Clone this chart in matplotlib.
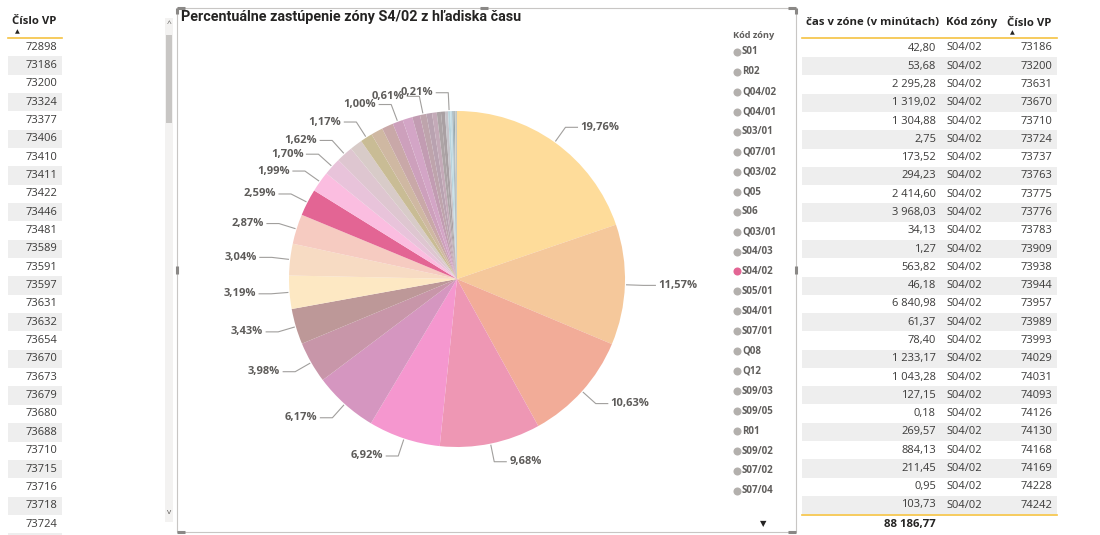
import numpy as np
import matplotlib.pyplot as plt
from matplotlib.patches import Rectangle

plt.rcParams['font.family'] = ['Open Sans', 'DejaVu Sans']

# left table: Číslo VP
left_vp = [72898, 73186, 73200, 73324, 73377, 73406, 73410, 73411, 73422,
           73446, 73481, 73589, 73591, 73597, 73631, 73632, 73654, 73670,
           73673, 73679, 73680, 73688, 73710, 73715, 73716, 73718, 73724]

# pie: share of each zone in %, clockwise from 12 o'clock
zone_share = [19.76, 11.57, 10.63, 9.68, 6.92, 6.17, 3.98, 3.43, 3.19, 3.04,
              2.87, 2.59, 1.99, 1.70, 1.62, 1.20, 1.17, 1.15, 1.10, 1.00,
              0.95, 0.75, 0.61, 0.55, 0.45, 0.40, 0.38, 0.30, 0.21,
              0.18, 0.14, 0.11, 0.08, 0.06, 0.04, 0.03]
zone_labelled = [True] * 15 + [False, True, False, False, True,
                               False, False, True, False, False, False, False, False, True,
                               False, False, False, False, False, False, False]
zone_colors = ['#FEDC9A', '#F5C89B', '#F2AC98', '#EE97B4', '#F597CF', '#D596C0',
               '#C896A9', '#BD9898', '#FDE8C3', '#F7DBC3', '#F6CBC1', '#E36594',
               '#FBBDE0', '#E8C3DA', '#DEC6D0', '#D8CBC8', '#C9BC95', '#CFB8A2',
               '#C9A8A8', '#CDA0BC', '#D3A5C6', '#C29CB2', '#BEA4AC', '#B9A2B0',
               '#C4AAB8', '#ADA4A6', '#A9A0A3', '#C7C4CA', '#B9D5DD', '#C3DCE4',
               '#A7B8BF', '#98A7A9', '#D9D2C8', '#9DAFB7', '#8C9AA2', '#C5C8B8']

legend_zones = ['S01', 'R02', 'Q04/02', 'Q04/01', 'S03/01', 'Q07/01', 'Q03/02',
                'Q05', 'S06', 'Q03/01', 'S04/03', 'S04/02', 'S05/01', 'S04/01',
                'S07/01', 'Q08', 'Q12', 'S09/03', 'S09/05', 'R01', 'S09/02',
                'S07/02', 'S07/04']
selected_zone = 'S04/02'

# right table
minutes = [42.80, 53.68, 2295.28, 1319.02, 1304.88, 2.75, 173.52, 294.23,
           2414.60, 3968.03, 34.13, 1.27, 563.82, 46.18, 6840.98, 61.37,
           78.40, 1233.17, 1043.28, 127.15, 0.18, 269.57, 884.13, 211.45,
           0.95, 103.73]
right_vp = [73186, 73200, 73631, 73670, 73710, 73724, 73737, 73763, 73775,
            73776, 73783, 73909, 73938, 73944, 73957, 73989, 73993, 74029,
            74031, 74093, 74126, 74130, 74168, 74169, 74228, 74242]
minutes_total = 88186.77

TEXT = '#252423'
GREY = '#605E5C'
SHADE = '#EEEEEE'
GOLD = '#F5C242'
FRAME = '#C8C6C4'


def sk(v):
    return f"{v:,.2f}".replace(',', ' ').replace('.', ',')


fig = plt.figure(figsize=(11, 5.35), dpi=100)
bg = fig.add_axes([0, 0, 1, 1])
bg.set_xlim(0, 1100)
bg.set_ylim(535, 0)
bg.axis('off')

# ---- left table
bg.text(12, 21, 'Číslo VP', fontsize=8.2, weight='bold', color=TEXT, va='center')
bg.text(17, 32, '▲', fontsize=4.5, color=TEXT, va='center', ha='center')
bg.plot([8, 62], [38, 38], color=GOLD, lw=1.2)
row_h = 18.35
for i, vp in enumerate(left_vp):
    y = 47 + i * row_h
    if i % 2 == 1:
        bg.add_patch(Rectangle((8, y - row_h / 2), 54, row_h, color=SHADE, lw=0))
    bg.text(57, y, str(vp), fontsize=8, color='#3B3A39', ha='right', va='center')
bg.add_patch(Rectangle((8, 47 + 27 * row_h - row_h / 2), 54, row_h, color=SHADE, lw=0))

# scrollbar
bg.add_patch(Rectangle((165, 18), 8, 504, color='#F3F2F1', lw=0))
bg.add_patch(Rectangle((166, 35), 6, 88, color='#C8C6C4', lw=0))
bg.text(169, 24, '^', fontsize=6, color=GREY, ha='center', va='center')
bg.text(169, 513, 'v', fontsize=6, color=GREY, ha='center', va='center')

# ---- pie visual frame
bg.plot([177, 796, 796, 177, 177], [8, 8, 532, 532, 8], color=FRAME, lw=0.8)
for hx, hy, dx, dy in [(177, 8, 8, 0), (177, 8, 0, 6), (796, 8, -8, 0), (796, 8, 0, 6),
                       (480, 8, 8, 0), (177, 532, 8, 0), (796, 532, -8, 0),
                       (177, 266, 0, 8), (796, 266, 0, 8)]:
    bg.plot([hx, hx + dx], [hy, hy + dy], color='#8A8886', lw=2.2, solid_capstyle='butt')

bg.text(181, 17, 'Percentuálne zastúpenie zóny S4/02 z hľadiska času', fontsize=10.4,
        weight='bold', family=['Roboto', 'DejaVu Sans'], color=TEXT, va='center')

# ---- pie
cx, cy, R = 457, 279, 168
half = 200
pie_ax = fig.add_axes([(cx - half) / 1100, (535 - cy - half) / 535, 2 * half / 1100, 2 * half / 535])
wedges, _ = pie_ax.pie(zone_share, colors=zone_colors, startangle=90, counterclock=False,
                       radius=R / half, wedgeprops=dict(linewidth=0))
pie_ax.set_xlim(-1, 1)
pie_ax.set_ylim(-1, 1)
pie_ax.axis('off')

for w, share, show in zip(wedges, zone_share, zone_labelled):
    if not show:
        continue
    th = np.deg2rad((w.theta1 + w.theta2) / 2)
    ux, uy = np.cos(th), -np.sin(th)
    x0, y0 = cx + ux * R * 1.01, cy + uy * R * 1.01
    x1, y1 = cx + ux * R * 1.11, cy + uy * R * 1.11
    side = 1 if ux >= 0 else -1
    x2 = x1 + side * 12
    bg.plot([x0, x1, x2], [y0, y1, y1], color='#A19F9D', lw=0.8)
    bg.text(x2 + side * 3, y1, f"{share:.2f}".replace('.', ',') + '%', fontsize=8,
            weight='bold', color='#5E5C5A', va='center', ha='left' if side > 0 else 'right')

# ---- legend
bg.text(733, 35, 'Kód zóny', fontsize=6.6, weight='bold', color=GREY, va='center')
for i, z in enumerate(legend_zones):
    y = 52 + i * 19.95
    bg.plot(737, y, 'o', ms=5.8, color='#E36594' if z == selected_zone else '#B3B0AD', mew=0)
    bg.text(742, y, z, fontsize=7, weight='bold', color=GREY, va='center')
bg.text(763, 525, '▼', fontsize=6, color=TEXT, ha='center', va='center')

# ---- right table
bg.text(806, 23, 'čas v zóne (v minútach)', fontsize=8.2, weight='bold', color=TEXT, va='center')
bg.text(946, 23, 'Kód zóny', fontsize=8.2, weight='bold', color=TEXT, va='center')
bg.text(1007, 23, 'Číslo VP', fontsize=8.2, weight='bold', color=TEXT, va='center')
bg.text(1012, 33, '▲', fontsize=4.5, color=TEXT, va='center', ha='center')
bg.plot([802, 1057], [38, 38], color=GOLD, lw=1.2)
row_h = 18.28
for i, (m, vp) in enumerate(zip(minutes, right_vp)):
    y = 48 + i * row_h
    if i % 2 == 1:
        bg.add_patch(Rectangle((802, y - row_h / 2), 255, row_h, color=SHADE, lw=0))
    bg.text(936, y, sk(m), fontsize=8, color='#3B3A39', ha='right', va='center')
    bg.text(946, y, selected_zone, fontsize=8, color='#3B3A39', ha='left', va='center')
    bg.text(1052, y, str(vp), fontsize=8, color='#3B3A39', ha='right', va='center')
bg.plot([802, 1057], [515, 515], color=GOLD, lw=1.2)
bg.text(936, 525, sk(minutes_total), fontsize=8.2, weight='bold', color=TEXT, ha='right', va='center')

fig.savefig('out.png', dpi=100)
